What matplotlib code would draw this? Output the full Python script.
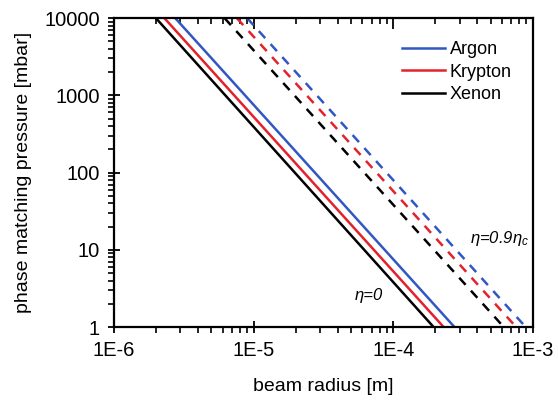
import numpy as np
import matplotlib
matplotlib.use("Agg")
import matplotlib.pyplot as plt
from matplotlib.ticker import LogLocator, NullFormatter, FixedFormatter, FixedLocator

plt.rcParams["font.family"] = ["Liberation Sans", "DejaVu Sans"]
plt.rcParams["mathtext.fontset"] = "custom"
plt.rcParams["mathtext.rm"] = "Liberation Sans"
plt.rcParams["mathtext.it"] = "Liberation Sans:italic"

gases = ["Argon", "Krypton", "Xenon"]
colors = ["#3157c4", "#e3222b", "black"]
pressure = [10000, 1]
# eta = 0 (solid)
r_eta0 = {
    "Argon": [2.75e-6, 2.75e-4],
    "Krypton": [2.3e-6, 2.3e-4],
    "Xenon": [2.0e-6, 1.95e-4],
}
# eta = 0.9 eta_c (dashed)
r_eta09 = {
    "Argon": [9.0e-6, 8.9e-4],
    "Krypton": [7.6e-6, 7.6e-4],
    "Xenon": [6.2e-6, 6.2e-4],
}

x_ticks = [1e-6, 1e-5, 1e-4, 1e-3]
x_ticklabels = ["1E-6", "1E-5", "1E-4", "1E-3"]
y_ticks = [1, 10, 100, 1000, 10000]
y_ticklabels = ["1", "10", "100", "1000", "10000"]

fig = plt.figure(figsize=(5.58, 4.11), dpi=100)
ax = fig.add_axes([0.204, 0.204, 0.751, 0.752])

for g, c in zip(gases, colors):
    ax.plot(r_eta0[g], pressure, color=c, lw=1.8, label=g)
for g, c in zip(gases, colors):
    ax.plot(r_eta09[g], pressure, color=c, lw=1.8, dashes=(3.8, 3.2))

ax.set_xscale("log")
ax.set_yscale("log")
ax.set_xlim(1e-6, 1e-3)
ax.set_ylim(1, 10000)

ax.xaxis.set_major_locator(FixedLocator(x_ticks))
ax.xaxis.set_major_formatter(FixedFormatter(x_ticklabels))
ax.yaxis.set_major_locator(FixedLocator(y_ticks))
ax.yaxis.set_major_formatter(FixedFormatter(y_ticklabels))
for axis in (ax.xaxis, ax.yaxis):
    axis.set_minor_locator(LogLocator(base=10, subs=np.arange(2, 10)))
    axis.set_minor_formatter(NullFormatter())

ax.tick_params(which="major", direction="inout", length=8, width=1.3,
               labelsize=14.5, pad=6, top=True, right=False)
ax.tick_params(which="minor", direction="out", length=4, width=1.2,
               top=True, right=False)
ax.tick_params(axis="x", which="both", labeltop=False)
# top ticks point inward
for t in ax.xaxis.get_major_ticks() + ax.xaxis.get_minor_ticks():
    t.tick2line.set_marker(3)

for s in ax.spines.values():
    s.set_linewidth(1.6)

ax.set_xlabel("beam radius [m]", fontsize=14, labelpad=13)
ax.set_ylabel("phase matching pressure [mbar]", fontsize=14, labelpad=9)

ax.text(0.609, 0.104, "η=0", transform=ax.transAxes, ha="center", va="center",
        fontsize=12, style="italic")
ax.text(0.921, 0.288, "η=0.9η$_c$", transform=ax.transAxes, ha="center", va="center",
        fontsize=12, style="italic")

ax.legend(loc="upper right", frameon=False, fontsize=13, handlelength=2.4,
          handletextpad=0.25, labelspacing=0.3, borderpad=0, borderaxespad=0,
          bbox_to_anchor=(0.95, 0.925))

fig.savefig("out.png", dpi=100)
